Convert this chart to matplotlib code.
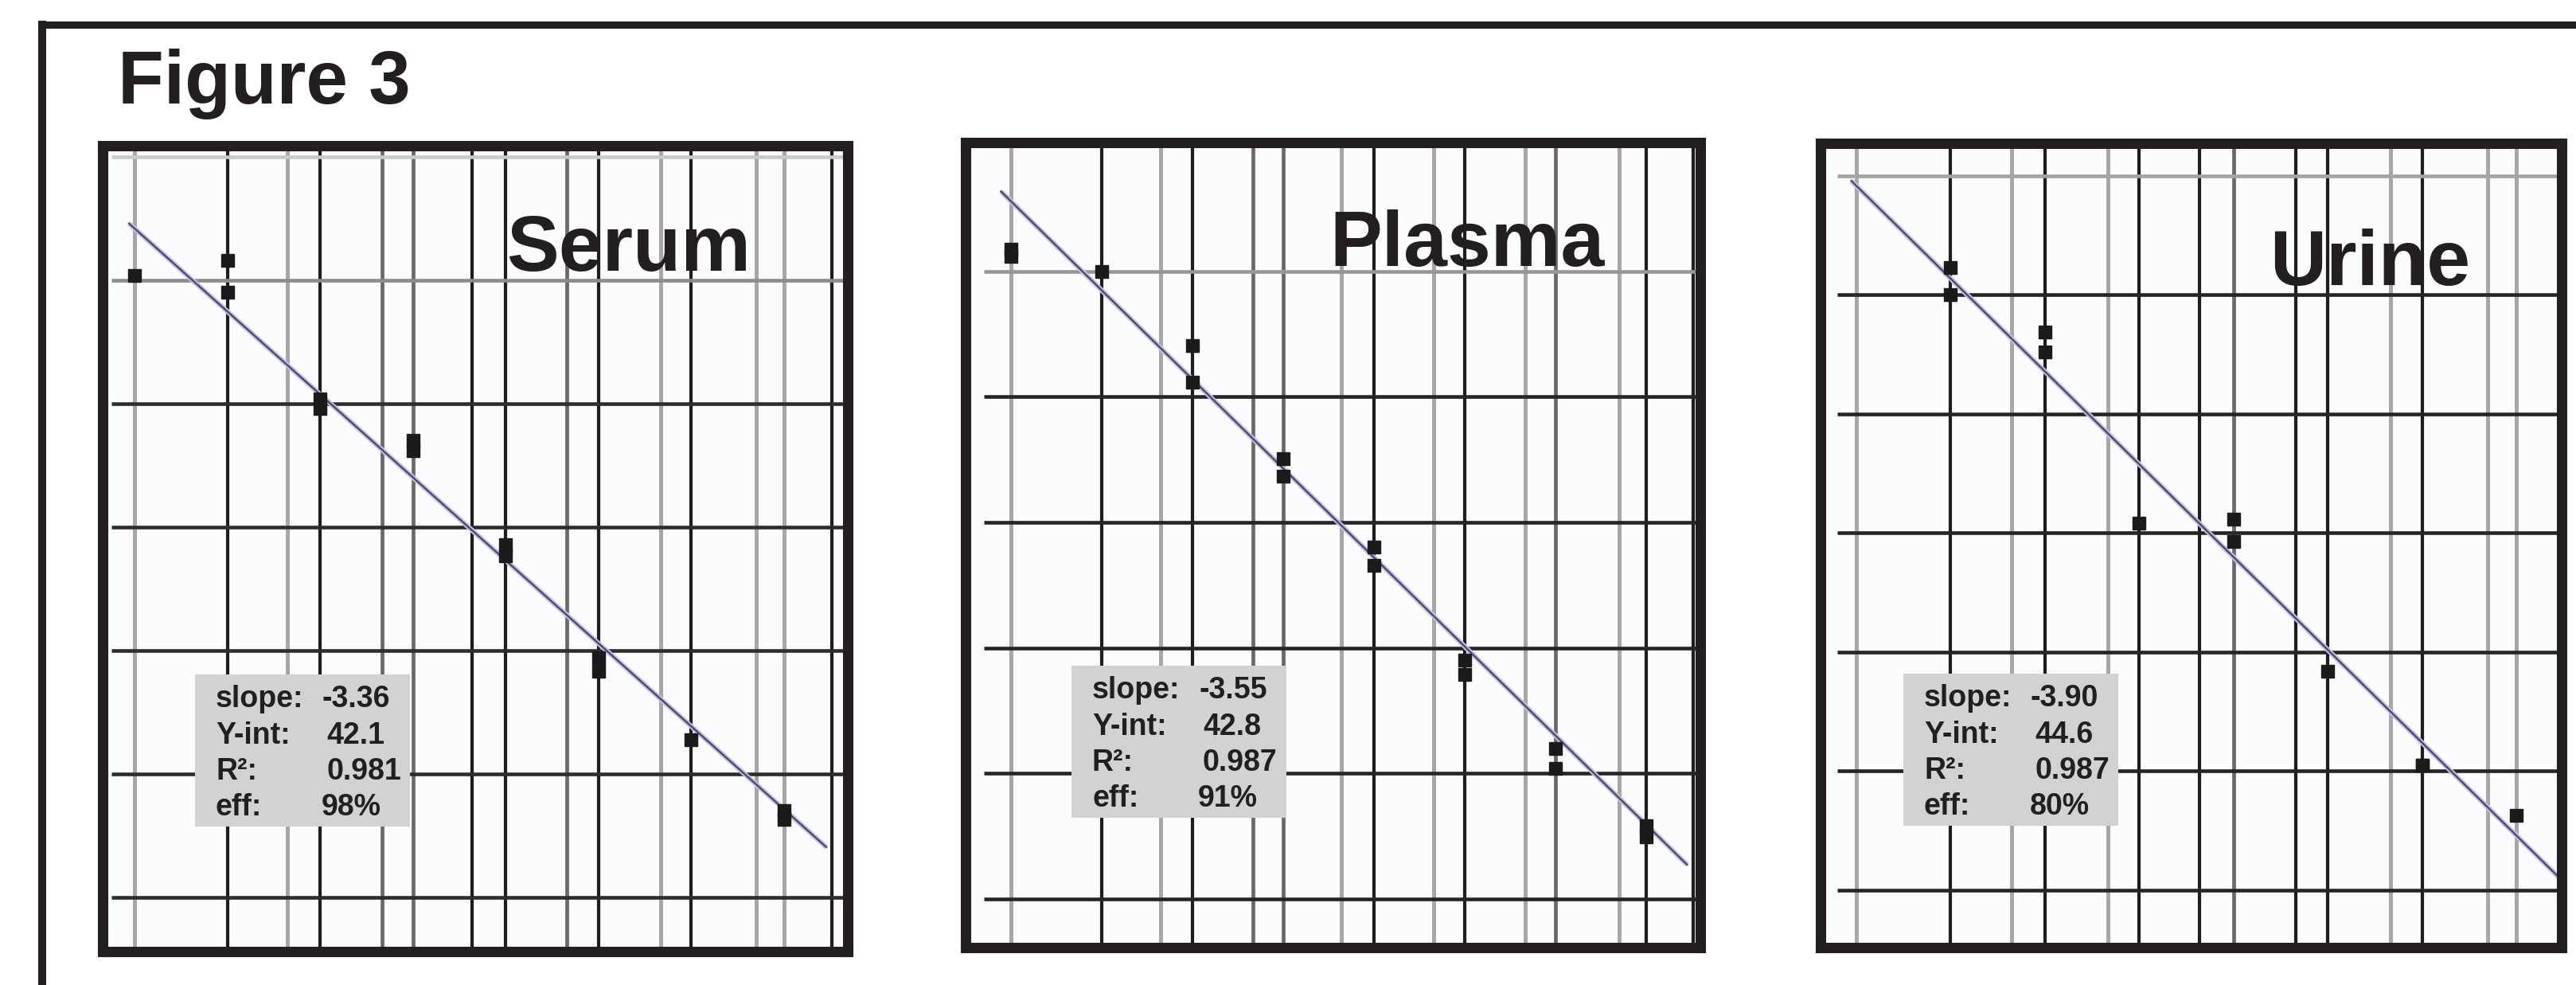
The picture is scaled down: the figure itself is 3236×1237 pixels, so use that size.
import matplotlib.pyplot as plt
from matplotlib.patches import Rectangle
from matplotlib.lines import Line2D
import numpy as np

plt.rcParams['font.family'] = ['Liberation Sans', 'DejaVu Sans']

# ---- data: Ct of replicate wells at each log dilution step ----
serum_x = [0, 1, 1, 2, 2, 3, 3, 4, 4, 5, 5, 6, 7, 7]
serum_ct = [40.2, 40.8, 39.5, 35.2, 34.8, 33.5, 33.1, 29.3, 28.85, 24.7, 24.15, 21.4, 18.5, 18.15]

plasma_x = [0, 0, 1, 2, 2, 3, 3, 4, 4, 5, 5, 6, 6, 7, 7]
plasma_ct = [40.9, 40.6, 40.0, 37.05, 35.6, 32.55, 31.85, 29.0, 28.3, 24.5, 23.95, 21.0, 20.2, 17.9, 17.45]

urine_x = [1, 1, 2, 2, 3, 4, 4, 5, 6, 6, 7]
urine_ct = [41.15, 40.0, 38.45, 37.6, 30.4, 30.6, 29.65, 24.2, 20.25, 20.25, 18.15]

names = ['Serum', 'Plasma', 'Urine']
slopes = [-3.36, -3.55, -3.90]
intercepts = [42.1, 42.8, 44.6]
r2 = [0.981, 0.987, 0.987]
eff = [98, 91, 80]
fit_span = [(-0.06, 7.46), (-0.11, 7.45), (-0.05, 7.49)]

xs_all = [serum_x, plasma_x, urine_x]
cts_all = [serum_ct, plasma_ct, urine_ct]

# ---- layout (image pixels, origin top-left) ----
W, H = 3236, 1237
DPI = 100
fig = plt.figure(figsize=(W / DPI, H / DPI), dpi=DPI)
fig.patch.set_facecolor('white')
ink = '#231f20'


def fx(px):
    return px / W


def fy(py):
    return 1 - py / H


panel_px = [(128.5, 183.5, 1065, 1195), (1212.5, 179, 2136, 1190), (2287, 180, 3218, 1190)]
xlims = [(-0.348, 7.691), (-0.504, 7.596), (-0.376, 7.481)]
ylims = [(12.806, 45.435), (13.05, 45.14), (12.59, 46.37)]

vgrid = [0, 1, 1.65, 2, 2.67, 3, 3.64, 4, 4.66, 5, 5.67, 6, 6.7, 7, 7.52]
vcols = ['gbgbddbbdbgbggb', 'gbgbddgbgbgdgbb', 'gbgbgbbdbbgbggb']
hgrid = [45, 40, 35, 30, 25, 20, 15]
hcols = [['#c9c9c9', '#8e8a8a'] + ['#2e2c2c'] * 5,
         ['#c9c9c9', '#9b9595'] + ['#262424'] * 5,
         ['#a5a3a3', '#262424'] + ['#262424'] * 5]
hstart = [-0.25, -0.3, -0.2]
col_map = {'b': ('#1e1c1c', 3.0), 'd': ('#6b6868', 3.4), 'g': ('#a9a6a6', 3.6)}

title_px = [(636, 340), (1670, 334), (2851, 358)]
box_px = [(245, 847), (1346, 836), (2391, 846)]
box_w, box_h = 270, 191
row_dy = [41, 87, 132, 177]
val_dx = [160, 165, 165, 159]

for i in range(3):
    l, t, r, b = panel_px[i]
    ax = fig.add_axes([fx(l), fy(b), (r - l) / W, (b - t) / H])
    ax.set_xlim(*xlims[i])
    ax.set_ylim(*ylims[i])
    ax.set_facecolor('#fbfcfe')
    ax.set_xticks([])
    ax.set_yticks([])
    for s in ax.spines.values():
        s.set_linewidth(9.4)
        s.set_color(ink)
        s.set_zorder(8)

    for xv, c in zip(vgrid, vcols[i]):
        col, lw = col_map[c]
        ax.axvline(xv, color=col, lw=lw, zorder=1)
    for ct, c in zip(hgrid, hcols[i]):
        ax.hlines(ct, hstart[i], xlims[i][1], color=c, lw=3.3, zorder=1.5)

    xx = np.linspace(*fit_span[i], 50)
    yy = intercepts[i] + slopes[i] * xx
    ax.plot(xx, yy, color='#c3c2dc', lw=4.5, zorder=2, solid_capstyle='butt')
    ax.plot(xx, yy, color='#4a4975', lw=1.7, zorder=2.5)
    ax.plot(xs_all[i], cts_all[i], 's', ms=11, color='#1c1a1a', mec='#1c1a1a', zorder=4)

    tx, ty = title_px[i]
    ax.text(fx(tx), fy(ty), names[i], transform=fig.transFigure, fontsize=71,
            fontweight='bold', color=ink, va='baseline', ha='left', zorder=7)

    bx, by = box_px[i]
    ax.add_patch(Rectangle((fx(bx), fy(by + box_h)), box_w / W, box_h / H,
                           transform=fig.transFigure, facecolor='#d1d2d4',
                           edgecolor='none', zorder=6, clip_on=False))
    labels = ['slope:', 'Y-int:', 'R²:', 'eff:']
    values = [f'{slopes[i]:.2f}', f'{intercepts[i]:.1f}', f'{r2[i]:.3f}', f'{eff[i]}%']
    for k in range(4):
        ax.text(fx(bx + 26), fy(by + row_dy[k]), labels[k], transform=fig.transFigure,
                fontsize=27, fontweight='bold', color=ink, va='baseline', zorder=7)
        ax.text(fx(bx + val_dx[k]), fy(by + row_dy[k]), values[k], transform=fig.transFigure,
                fontsize=27, fontweight='bold', color=ink, va='baseline', zorder=7)

# outer frame (left and top only, rest is cut off)
fig.add_artist(Line2D([fx(53), fx(53)], [fy(H + 20), fy(30.5)], transform=fig.transFigure,
                      lw=7.2, color=ink, solid_capstyle='projecting'))
fig.add_artist(Line2D([fx(53), fx(W + 20)], [fy(30.5), fy(30.5)], transform=fig.transFigure,
                      lw=6.5, color=ink, solid_capstyle='projecting'))

fig.text(fx(148), fy(130), 'Figure 3', fontsize=68, fontweight='bold', color=ink,
         va='baseline', ha='left')

fig.savefig('out.png', dpi=DPI)
